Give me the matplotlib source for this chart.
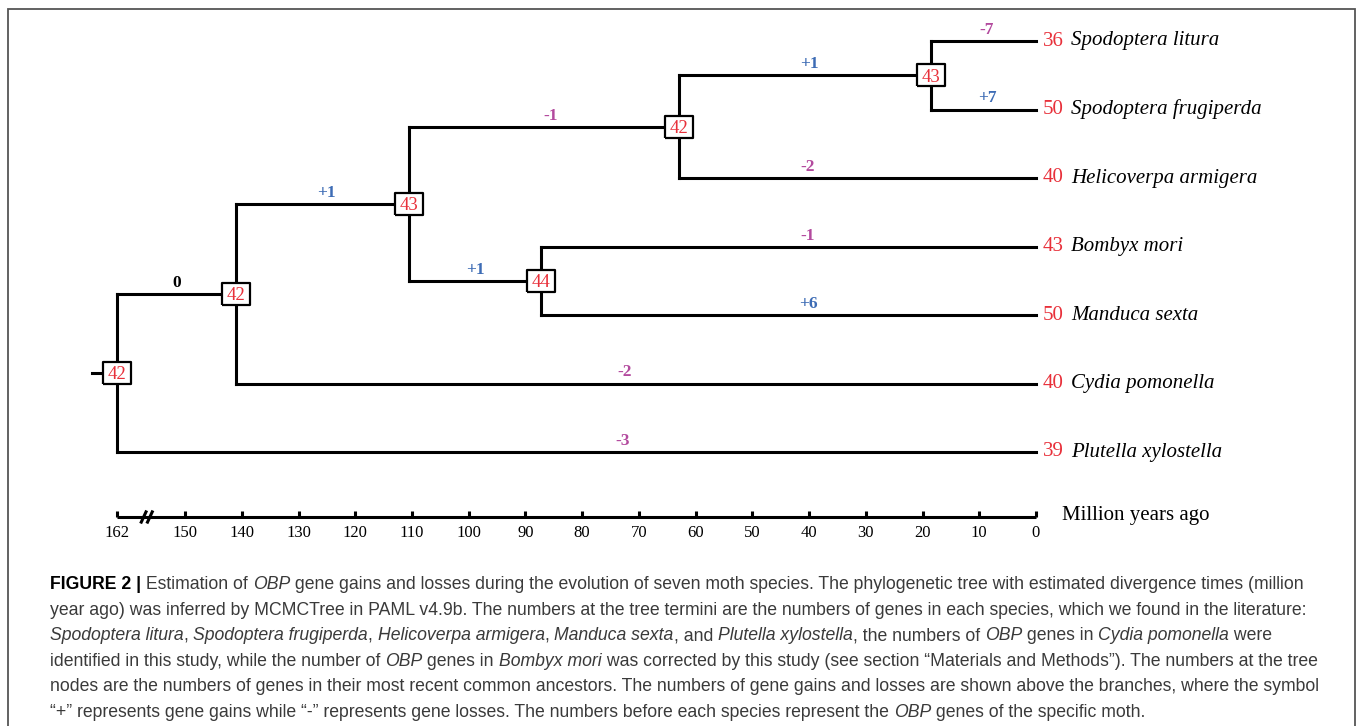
import matplotlib
matplotlib.use("Agg")
import matplotlib.pyplot as plt
from matplotlib.patches import Rectangle
from matplotlib import font_manager

# 叶子（从上到下）
species = ["Spodoptera litura", "Spodoptera frugiperda", "Helicoverpa armigera",
           "Bombyx mori", "Manduca sexta", "Cydia pomonella", "Plutella xylostella"]
species_obp = [36, 50, 40, 43, 50, 40, 39]

# 内部节点：年龄 (Mya) 与祖先 OBP 数
node_ids = ["root", "n1", "n2", "n3", "n4", "n5"]
node_age = [162, 141, 110.5, 63, 18.5, 87.2]
node_obp = [42, 42, 43, 42, 43, 44]

# 分支：父 -> 子，增减数，标注位置 (Mya)
edge_parent = ["root", "root", "n1", "n1", "n2", "n2", "n3", "n3", "n4", "n4", "n5", "n5"]
edge_child = ["n1", "Plutella xylostella", "n2", "Cydia pomonella", "n3", "n5",
              "n4", "Helicoverpa armigera", "Spodoptera litura", "Spodoptera frugiperda",
              "Bombyx mori", "Manduca sexta"]
edge_change = ["0", "-3", "+1", "-2", "-1", "+1", "+1", "-2", "-7", "+7", "-1", "+6"]
edge_label_age = [151.5, 72.8, 125, 72.5, 85.5, 98.8, 40, 40.2, 8.8, 8.5, 40.2, 40.2]

# 时间轴
time_ticks = [162, 150, 140, 130, 120, 110, 100, 90, 80, 70, 60, 50, 40, 30, 20, 10, 0]

RED = "#e8303a"
BLUE = "#3d6cb5"
PURPLE = "#b34a9e"
SERIF = "Liberation Serif"

W, H = 1357, 726
PX_PER_MY = 5.673      # 像素 / 百万年
X0 = 1036              # 0 Mya 的像素位置
Y0, DY = 41, 68.5      # 第一个叶子的像素 y 与行距

fig = plt.figure(figsize=(W / 100, H / 100), dpi=100)
ax = fig.add_axes([0, 0, 1, 1])
ax.set_xlim(X0 / PX_PER_MY, (X0 - W) / PX_PER_MY)
ax.set_ylim((H - Y0) / DY, -Y0 / DY)
ax.axis("off")

# 坐标
age = {n: a for n, a in zip(node_ids, node_age)}
ypos = {}
for i, s in enumerate(species):
    age[s] = 0
    ypos[s] = i
children = {}
for p, c in zip(edge_parent, edge_child):
    children.setdefault(p, []).append(c)


def get_y(n):
    if n not in ypos:
        ypos[n] = sum(get_y(c) for c in children[n]) / len(children[n])
    return ypos[n]


get_y("root")

lw = 2.2
for p, kids in children.items():
    ys = [ypos[c] for c in kids]
    ax.plot([age[p], age[p]], [min(ys), max(ys)], color="black", lw=lw,
            solid_capstyle="projecting", zorder=2)
for p, c, ch, la in zip(edge_parent, edge_child, edge_change, edge_label_age):
    ax.plot([age[p], age[c]], [ypos[c], ypos[c]], color="black", lw=lw,
            solid_capstyle="projecting", zorder=2)
    col = "black" if ch == "0" else (BLUE if ch.startswith("+") else PURPLE)
    ax.annotate(ch, (la, ypos[c]), xytext=(0, 3), textcoords="offset pixels",
                ha="center", va="bottom", fontsize=12.5, fontweight="bold",
                family=SERIF, color=col)

# 根部短线
ax.plot([age["root"] + 4.4, age["root"]], [ypos["root"]] * 2, color="black", lw=lw, zorder=2)

# 节点方框
box = [(-14, -11), (14, -11), (14, 11), (-14, 11), (-14, -11)]
for n, v in zip(node_ids, node_obp):
    ax.plot(age[n], ypos[n], marker=box, markersize=20.2, mfc="white", mec="black",
            mew=1.6, zorder=3)
    ax.annotate(str(v), (age[n], ypos[n]), xytext=(0, -2), textcoords="offset pixels",
                ha="center", va="center", fontsize=13.5, family=SERIF, color=RED,
                zorder=4)

# 叶子标签
for s, v in zip(species, species_obp):
    ax.annotate(str(v), (0, ypos[s]), xytext=(7, 0), textcoords="offset pixels",
                ha="left", va="center", fontsize=15, family=SERIF, color=RED)
    ax.annotate(s, (0, ypos[s]), xytext=(35, 0), textcoords="offset pixels",
                ha="left", va="center", fontsize=15, family=SERIF, style="italic",
                color="black")

# 时间轴
y_axis = (517 - Y0) / DY
ax.plot([time_ticks[0], time_ticks[-1]], [y_axis, y_axis], color="black", lw=lw,
        solid_capstyle="butt")
tick_h = 6 / DY
for t in time_ticks:
    ax.plot([t, t], [y_axis, y_axis - tick_h], color="black", lw=lw,
            solid_capstyle="butt")
    ax.annotate(str(t), (t, y_axis), xytext=(0, -8), textcoords="offset pixels",
                ha="center", va="top", fontsize=12, family=SERIF)
# 截断符号 //
sx, sy = 3 / PX_PER_MY, 6.5 / DY
for c in [157.3, 156.2]:
    ax.plot([c + sx, c - sx], [y_axis + sy, y_axis - sy], color="black", lw=2.2,
            solid_capstyle="butt")
ax.annotate("Million years ago", (0, y_axis), xytext=(26, -3), textcoords="offset pixels",
            ha="left", va="baseline", fontsize=15, family=SERIF)

# 外框
fig.patches.append(Rectangle((8 / W, -0.05), (1355 - 8) / W, 1.05 - 9 / H, fill=False,
                             ec="#555555", lw=1.3, transform=fig.transFigure))

# 图注
names = {f.name for f in font_manager.fontManager.ttflist}
cap_font = "Liberation Sans Narrow" if "Liberation Sans Narrow" in names else "Liberation Sans"
CAP_COL = "#3a3a3a"

caption = [
    [("FIGURE 2 |", "b"), (" Estimation of ", "n"), ("OBP", "i"),
     (" gene gains and losses during the evolution of seven moth species. The phylogenetic tree with estimated divergence times (million", "n")],
    [("year ago) was inferred by MCMCTree in PAML v4.9b. The numbers at the tree termini are the numbers of genes in each species, which we found in the literature:", "n")],
    [("Spodoptera litura", "i"), (", ", "n"), ("Spodoptera frugiperda", "i"), (", ", "n"),
     ("Helicoverpa armigera", "i"), (", ", "n"), ("Manduca sexta", "i"), (", and ", "n"),
     ("Plutella xylostella", "i"), (", the numbers of ", "n"), ("OBP", "i"),
     (" genes in ", "n"), ("Cydia pomonella", "i"), (" were", "n")],
    [("identified in this study, while the number of ", "n"), ("OBP", "i"), (" genes in ", "n"),
     ("Bombyx mori", "i"),
     (" was corrected by this study (see section \u201cMaterials and Methods\u201d). The numbers at the tree", "n")],
    [("nodes are the numbers of genes in their most recent common ancestors. The numbers of gene gains and losses are shown above the branches, where the symbol", "n")],
    [("\u201c+\u201d represents gene gains while \u201c-\u201d represents gene losses. The numbers before each species represent the ", "n"),
     ("OBP", "i"), (" genes of the specific moth.", "n")],
]

renderer = fig.canvas.get_renderer()

probe = fig.text(0, 0, caption[1][0][0], fontsize=13, family=cap_font)
w13 = probe.get_window_extent(renderer).width
probe.remove()
cap_size = 13 * 1254 / w13

for k, line in enumerate(caption):
    x = 50
    y = 589 + k * 25.6
    for txt, st in line:
        t = fig.text(x / W, 1 - y / H, txt, fontsize=cap_size, family=cap_font,
                     fontweight="bold" if st == "b" else "normal",
                     style="italic" if st == "i" else "normal",
                     color="black" if st == "b" else CAP_COL, va="baseline", ha="left")
        x += t.get_window_extent(renderer).width

fig.savefig("out.png", dpi=100)
